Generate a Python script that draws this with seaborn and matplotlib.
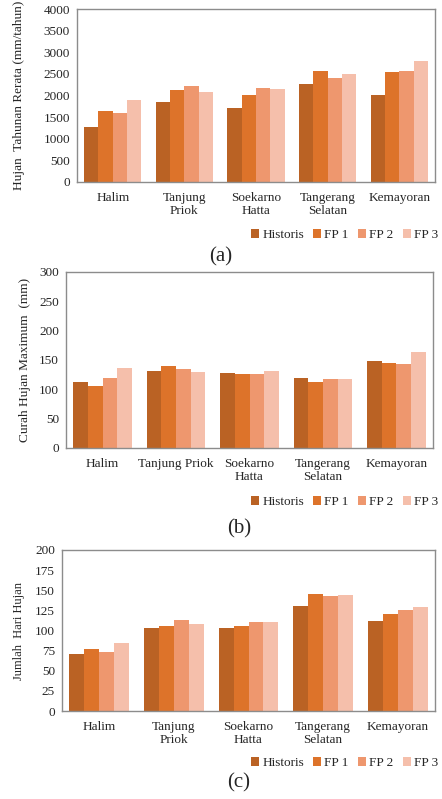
import matplotlib
matplotlib.use("Agg")
import matplotlib.pyplot as plt
import seaborn as sns
import pandas as pd
from matplotlib.patches import Patch

stations = ["Halim", "Tanjung Priok", "Soekarno Hatta", "Tangerang Selatan", "Kemayoran"]
series = ["Historis", "FP 1", "FP 2", "FP 3"]

# (a) mean annual rainfall, mm/year
annual_hist = [1270, 1840, 1700, 2270, 2010]
annual_fp1 = [1650, 2125, 2000, 2565, 2540]
annual_fp2 = [1600, 2220, 2175, 2405, 2575]
annual_fp3 = [1890, 2075, 2160, 2505, 2805]

# (b) maximum rainfall, mm
max_hist = [112, 131, 127, 119, 149]
max_fp1 = [105, 139, 126, 112, 145]
max_fp2 = [119, 135, 126, 118, 144]
max_fp3 = [136, 129, 131, 118, 163]

# (c) number of rain days
days_hist = [71, 103, 103, 131, 112]
days_fp1 = [77, 106, 106, 145, 120]
days_fp2 = [73, 113, 110, 143, 125]
days_fp3 = [84, 108, 110, 144, 129]

labels_ac = ["Halim", "Tanjung\nPriok", "Soekarno\nHatta", "Tangerang\nSelatan", "Kemayoran"]
labels_b = ["Halim", "Tanjung Priok", "Soekarno\nHatta", "Tangerang\nSelatan", "Kemayoran"]

colors = ["#BA6224", "#DD732A", "#EE976E", "#F5BFAB"]

sns.set_theme(style="white")
plt.rcParams["font.family"] = ["Liberation Serif", "DejaVu Serif"]


def to_long(vals):
    rows = []
    for s, v in zip(series, vals):
        for st, x in zip(stations, v):
            rows.append({"Stasiun": st, "Skenario": s, "Nilai": x})
    return pd.DataFrame(rows)


def draw(fig, rect, vals, ylim, step, ylabel, xlabels, leg_y, tag, tag_xy, ylab_x, ylab_size=9.5):
    ax = fig.add_axes(rect)
    df = to_long(vals)
    sns.barplot(data=df, x="Stasiun", y="Nilai", hue="Skenario", order=stations,
                hue_order=series, palette=colors, width=0.8, saturation=1,
                linewidth=0, legend=False, ax=ax)
    ax.set_ylim(0, ylim)
    ax.set_yticks(range(0, ylim + 1, step))
    ax.set_xticks(range(len(stations)))
    ax.set_xticklabels(xlabels, fontsize=9.5, linespacing=1.15)
    ax.tick_params(axis="y", labelsize=9.5, length=0, pad=5)
    ax.tick_params(axis="x", length=0, pad=7)
    ax.set_xlabel("")
    ax.set_ylabel(ylabel, fontsize=ylab_size)
    ax.yaxis.set_label_coords(ylab_x, 0.5)
    for sp in ax.spines.values():
        sp.set_color("#8c8c8c")
        sp.set_linewidth(1.0)
    handles = [Patch(facecolor=c, edgecolor="none") for c in colors]
    fig.legend(handles, series, loc="center right", bbox_to_anchor=(1.003, leg_y),
               ncol=4, frameon=False, fontsize=9.5, handlelength=0.6, handleheight=0.6,
               handletextpad=0.25, columnspacing=0.7, borderaxespad=0)
    fig.text(tag_xy[0], tag_xy[1], tag, ha="center", va="center", fontsize=15)
    return ax


fig = plt.figure(figsize=(4.42, 7.99), dpi=100)

draw(fig, [77 / 442, 1 - 182 / 799, 358 / 442, 173 / 799],
     [annual_hist, annual_fp1, annual_fp2, annual_fp3], 4000, 500,
     "Hujan  Tahunan Rerata (mm/tahun)", labels_ac,
     1 - 235 / 799, "(a)", (221 / 442, 1 - 257 / 799), -0.145)

draw(fig, [66 / 442, 1 - 448 / 799, 367 / 442, 176 / 799],
     [max_hist, max_fp1, max_fp2, max_fp3], 300, 50,
     "Curah Hujan Maximum  (mm)", labels_b,
     1 - 502 / 799, "(b)", (239 / 442, 1 - 529 / 799), -0.095)

draw(fig, [62 / 442, 1 - 711 / 799, 373 / 442, 161 / 799],
     [days_hist, days_fp1, days_fp2, days_fp3], 200, 25,
     "Jumlah  Hari Hujan", labels_ac,
     1 - 763 / 799, "(c)", (239 / 442, 1 - 783 / 799), -0.1, ylab_size=9)

fig.savefig("out.png", dpi=100)
